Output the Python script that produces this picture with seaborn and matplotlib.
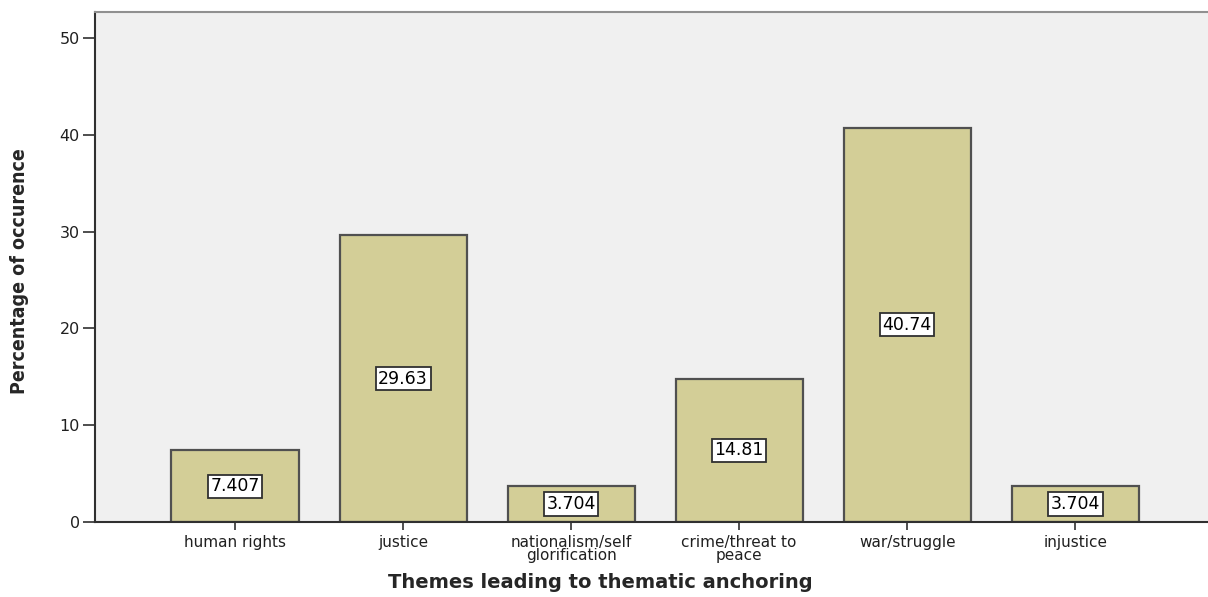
import matplotlib
matplotlib.use("Agg")
import matplotlib.pyplot as plt
import seaborn as sns
import pandas as pd

categories = ["human rights", "justice", "nationalism/self\nglorification",
              "crime/threat to\npeace", "war/struggle", "injustice"]
values = [7.407, 29.63, 3.704, 14.81, 40.74, 3.704]
value_labels = ["7.407", "29.63", "3.704", "14.81", "40.74", "3.704"]
yticks = [0, 10, 20, 30, 40, 50]

sns.set_style("white")
plt.rcParams['font.family'] = ['DejaVu Sans']

df = pd.DataFrame({"theme": categories, "pct": values})

fig = plt.figure(figsize=(12.08, 5.97), dpi=100)
ax = fig.add_axes([95/1208, 75/597, 1 - 95/1208, 510/597])
ax.set_facecolor("#f0f0f0")

sns.barplot(data=df, x="theme", y="pct", color="#d3ce97", saturation=1,
            width=0.756, edgecolor="#505050", linewidth=1.6, ax=ax)

for i, (v, lab) in enumerate(zip(values, value_labels)):
    ax.text(i, v / 2, lab, ha="center", va="center", fontsize=12.5, color="black",
            bbox=dict(boxstyle="square,pad=0.15", facecolor="white",
                      edgecolor="#303030", linewidth=1.3))

ax.set_xlim(-0.833, 5.79)
ax.set_ylim(0, 52.7)
ax.set_yticks(yticks)
ax.set_yticklabels([str(t) for t in yticks], fontsize=11.5, color="#202020")
ax.tick_params(axis="y", direction="out", length=9, width=1.2, color="#303030",
               left=True, pad=2)
ax.tick_params(axis="x", direction="out", length=6, width=1.2, color="#303030",
               bottom=True, pad=3, labelsize=11, labelcolor="#202020")
for t in ax.get_xticklabels():
    t.set_linespacing(0.85)

for s in ["left", "bottom"]:
    ax.spines[s].set_color("#303030")
    ax.spines[s].set_linewidth(1.5)
ax.spines["top"].set_color("#909090")
ax.spines["top"].set_linewidth(1.5)
ax.spines["right"].set_visible(False)

ax.set_xlabel("")
ax.set_ylabel("")
fig.text(600/1208, 1 - 582/597, "Themes leading to thematic anchoring",
         ha="center", va="center", fontsize=14, fontweight="bold",
         family=["DejaVu Sans"])
fig.text(20/1208, 1 - 271/597, "Percentage of occurence", rotation=90,
         ha="center", va="center", fontsize=14, fontweight="bold",
         fontstretch="condensed",
         family=["DejaVu Sans"])

fig.savefig("out.png", dpi=100)
